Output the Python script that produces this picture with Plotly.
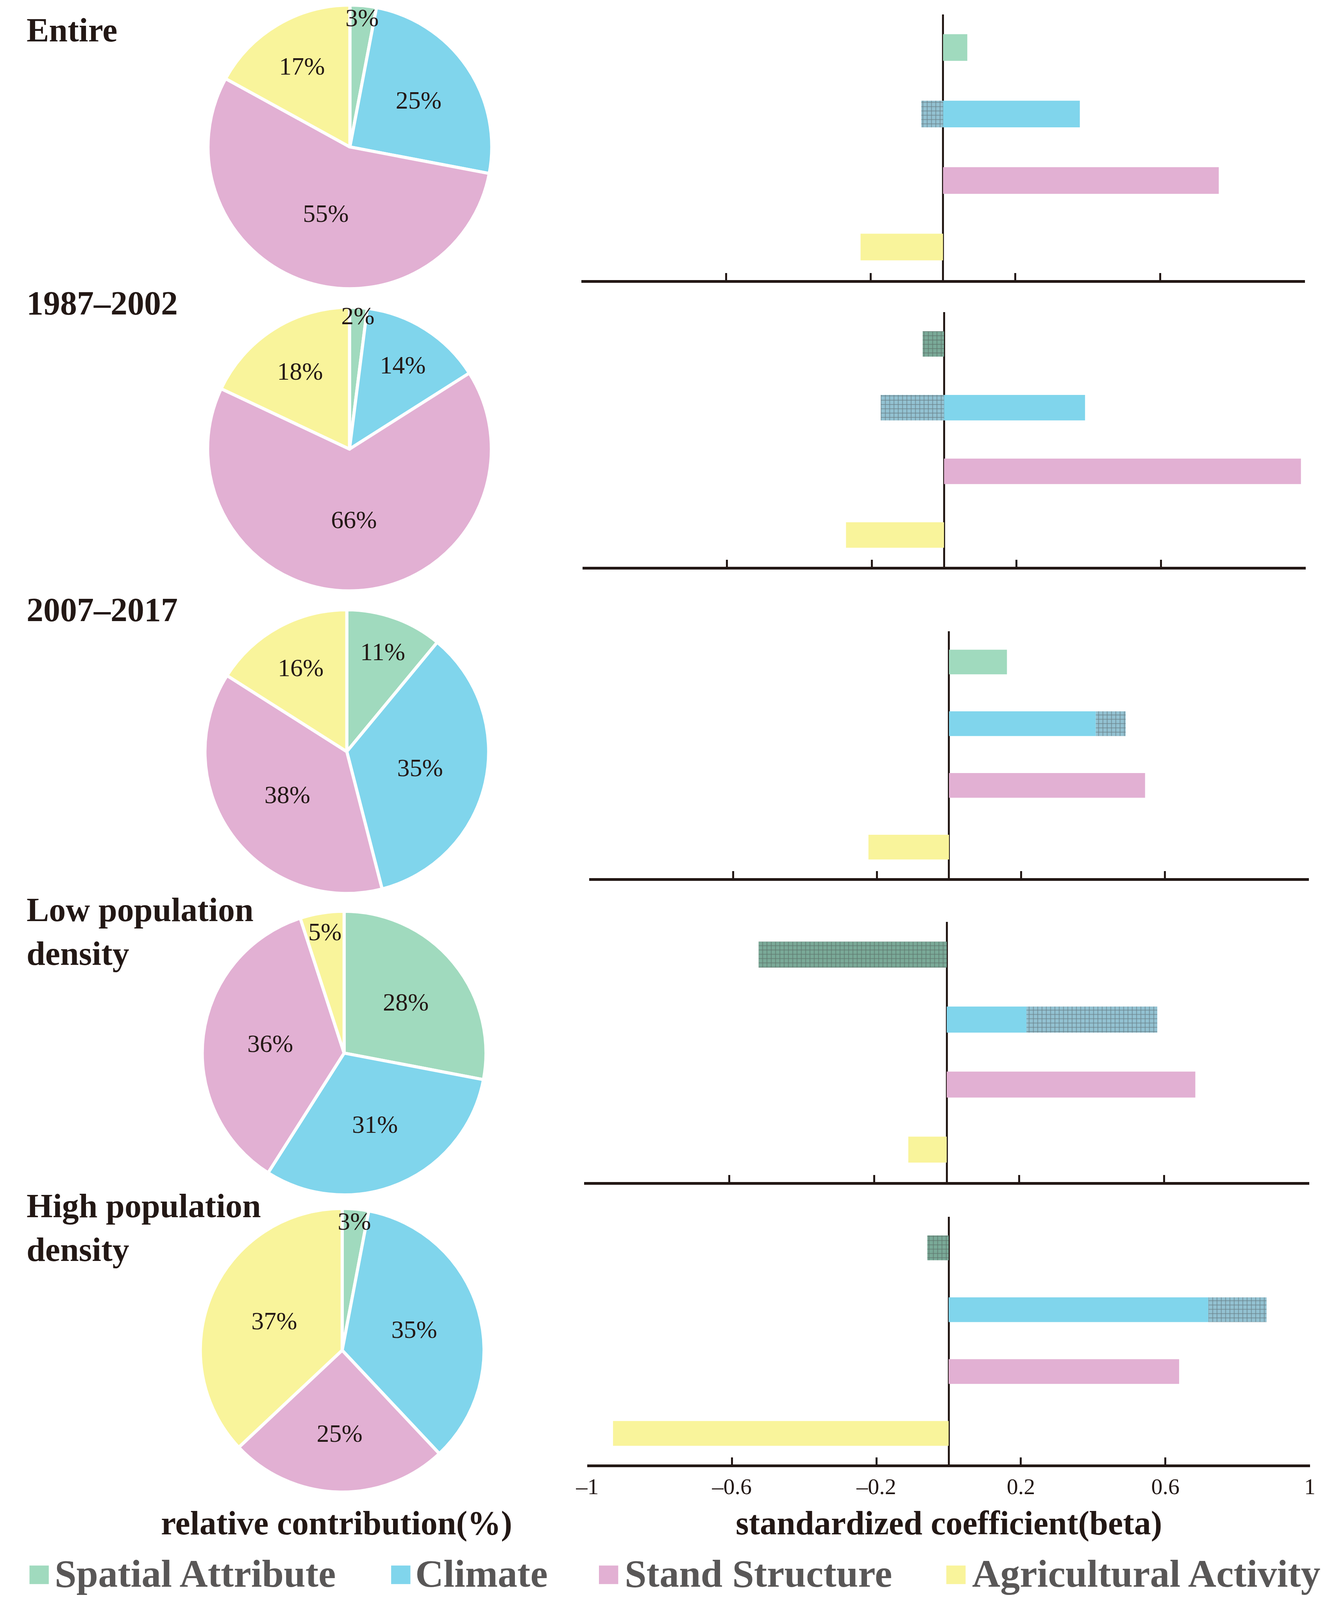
import plotly.graph_objects as go

# ---- data ----
factors = ['Spatial Attribute', 'Climate', 'Stand Structure', 'Agricultural Activity']
groups = ['Entire', '1987–2002', '2007–2017',
          'Low population<br>density', 'High population<br>density']

# relative contribution (%), order as factors
share_entire = [3, 25, 55, 17]
share_8702 = [2, 14, 66, 18]
share_0717 = [11, 35, 38, 16]
share_low = [28, 31, 36, 5]
share_high = [3, 35, 25, 37]

# standardized coefficient (beta): solid part and hatched part
beta_entire = [0.067, 0.378, 0.762, -0.228]
hatch_entire = [0, -0.06, 0, 0]
beta_8702 = [0, 0.390, 0.987, -0.271]
hatch_8702 = [-0.059, -0.175, 0, 0]
beta_0717 = [0.161, 0.408, 0.545, -0.224]
hatch_0717 = [0, 0.083, 0, 0]
beta_low = [0, 0.220, 0.686, -0.106]
hatch_low = [-0.519, 0.361, 0, 0]
beta_high = [0, 0.719, 0.638, -0.929]
hatch_high = [-0.059, 0.161, 0, 0]

tick_vals = [-1, -0.6, -0.2, 0.2, 0.6, 1]
tick_text = ['–1', '–0.6', '–0.2', '0.2', '0.6', '1']

shares = [share_entire, share_8702, share_0717, share_low, share_high]
betas = [beta_entire, beta_8702, beta_0717, beta_low, beta_high]
hatches = [hatch_entire, hatch_8702, hatch_0717, hatch_low, hatch_high]

# ---- style / layout ----
# the browser only shows 3422x4096, so the layout (measured on a 3422x4824
# reference) is squeezed vertically to fit
W, H = 3406, 4080
SY = 4096 / 4824
FONT = 'Liberation Serif'
INK = '#231815'
colors = ['#A0DABE', '#80D5EC', '#E2B0D3', '#F9F49B']
hatch_colors = ['#7AAA98', '#93C2D2', '#C998BA', '#D8D38A']
ypos = [3, 2, 1, 0]

pie_cx = [877, 876, 869, 862, 857]
pie_cy = [443, 1354, 2266, 3175, 4071]
R = 368
bar_x0 = [1477, 1480, 1498, 1485, 1493]
bar_x1 = [3354, 3356, 3364, 3365, 3367]
bar_top = [43, 941, 1903, 2780, 3669]
bar_bot = [845, 1709, 2647, 3564, 4415]
title_base = [123, 947, 1871, 2775, 3668]

TITLE_FS = 86
LABEL_FS = 64
TICK_FS = 58
AXT_FS = 86
LEG_FS = 100


def px(x):
    # reference x (px) -> paper
    return (x - 8) / W


def py(y):
    # reference y (px) -> paper
    return 1 - (y * SY - 8) / H


def fy(v):
    # figure px offset -> paper
    return v / H


fig = go.Figure()
layout = dict(width=W, height=H, margin=dict(l=0, r=0, t=0, b=0),
              paper_bgcolor='white', plot_bgcolor='white',
              showlegend=False, barmode='relative',
              uniformtext=dict(minsize=LABEL_FS, mode='show'),
              font=dict(family=FONT, color=INK))
annotations = []
shapes = []

for i in range(5):
    cy = 1 - (pie_cy[i] * SY - 8) / H
    dom = dict(x=[px(pie_cx[i]) - R / W, px(pie_cx[i]) + R / W],
               y=[cy - R / H, cy + R / H])
    # pie slices
    fig.add_trace(go.Pie(values=shares[i], labels=factors, sort=False,
                         direction='clockwise',
                         marker=dict(colors=colors, line=dict(color='white', width=8)),
                         textinfo='none', domain=dom,
                         hoverinfo='skip', showlegend=False))
    # same pie, transparent, only to keep the % labels on top of all slices
    fig.add_trace(go.Pie(values=shares[i], labels=factors, sort=False,
                         direction='clockwise',
                         marker=dict(colors=['rgba(0,0,0,0)'] * 4, line=dict(width=0)),
                         texttemplate='%{value}%', textposition='inside',
                         insidetextorientation='horizontal',
                         textfont=dict(size=LABEL_FS, color=INK, family=FONT),
                         domain=dom, hoverinfo='skip', showlegend=False))

    xa = 'x' if i == 0 else 'x%d' % (i + 1)
    ya = 'y' if i == 0 else 'y%d' % (i + 1)
    fig.add_trace(go.Bar(x=betas[i], y=ypos, orientation='h', width=0.4,
                         marker=dict(color=colors, line=dict(width=0)),
                         xaxis=xa, yaxis=ya, showlegend=False))
    fig.add_trace(go.Bar(x=hatches[i], y=ypos, orientation='h', width=0.4,
                         marker=dict(color=hatch_colors, line=dict(width=0),
                                     pattern=dict(shape='+', fgcolor='white',
                                                  bgcolor=hatch_colors,
                                                  size=11, solidity=0.25)),
                         xaxis=xa, yaxis=ya, showlegend=False))

    key = '' if i == 0 else str(i + 1)
    layout['xaxis' + key] = dict(domain=[px(bar_x0[i]), px(bar_x1[i])],
                                 anchor=ya, range=[-1, 1],
                                 showline=True, linewidth=7, linecolor=INK,
                                 ticks='inside', ticklen=18, tickwidth=5, tickcolor=INK,
                                 tickvals=tick_vals, ticktext=tick_text,
                                 showticklabels=(i == 4),
                                 tickfont=dict(size=TICK_FS, family=FONT, color=INK),
                                 showgrid=False, zeroline=True,
                                 zerolinecolor=INK, zerolinewidth=5,
                                 fixedrange=True)
    layout['yaxis' + key] = dict(domain=[py(bar_bot[i]), py(bar_top[i])],
                                 anchor=xa, range=[-0.5, 3.5], visible=False,
                                 fixedrange=True)

    # panel title (top of text box = baseline - ascent)
    annotations.append(dict(text='<b>%s</b>' % groups[i], xref='paper', yref='paper',
                            x=px(36), y=py(title_base[i]) + fy(0.891 * TITLE_FS + 1),
                            xanchor='left', yanchor='top', align='left',
                            showarrow=False,
                            font=dict(size=TITLE_FS, color=INK, family=FONT)))

# axis titles
annotations.append(dict(text='<b>relative contribution(%)</b>', xref='paper', yref='paper',
                        x=px(843), y=py(4592), xanchor='center', yanchor='middle',
                        showarrow=False, font=dict(size=AXT_FS, color=INK, family=FONT)))
annotations.append(dict(text='<b>standardized coefficient(beta)</b>', xref='paper',
                        yref='paper', x=px(2430), y=py(4592), xanchor='center',
                        yanchor='middle', showarrow=False,
                        font=dict(size=AXT_FS, color=INK, family=FONT)))

# legend (swatch + label)
leg_sq = [46, 984, 1523, 2424]
leg_tx = [109, 1045, 1588, 2489]
for k in range(4):
    shapes.append(dict(type='rect', xref='paper', yref='paper',
                       x0=px(leg_sq[k]), x1=px(leg_sq[k] + 50),
                       y0=py(4776), y1=py(4720),
                       fillcolor=colors[k], line=dict(width=0)))
    annotations.append(dict(text='<b>%s</b>' % factors[k], xref='paper', yref='paper',
                            x=px(leg_tx[k]), y=py(4745), xanchor='left', yanchor='middle',
                            showarrow=False,
                            font=dict(size=LEG_FS, color='#595757', family=FONT)))

layout['annotations'] = annotations
layout['shapes'] = shapes
fig.update_layout(**layout)

fig.write_html('out.html')
